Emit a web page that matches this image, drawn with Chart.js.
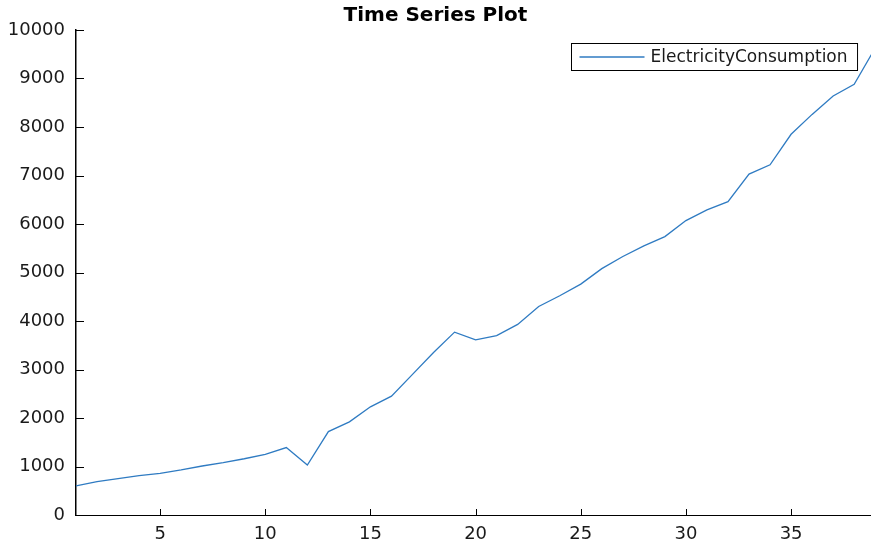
<!DOCTYPE html>
<html>
<head>
<meta charset="utf-8">
<title>Time Series Plot</title>
<script src="https://cdn.jsdelivr.net/npm/chart.js@4.4.1/dist/chart.umd.min.js"></script>
<style>
    html, body { margin: 0; padding: 0; background: #fff; }
    #plot { display: block; }
</style>
</head>
<body>
<canvas id="plot" width="871" height="548"></canvas>
<script>
    // values
    const periods = [1, 2, 3, 4, 5, 6, 7, 8, 9, 10, 11, 12, 13, 14, 15, 16, 17, 18, 19, 20,
        21, 22, 23, 24, 25, 26, 27, 28, 29, 30, 31, 32, 33, 34, 35, 36, 37, 38, 39];
    const consumption = [600, 690, 750, 810, 860, 930, 1010, 1080, 1160, 1250, 1390, 1030, 1720,
        1920, 2230, 2450, 2900, 3350, 3770, 3610, 3700, 3930, 4300, 4520, 4760, 5080, 5330,
        5550, 5740, 6070, 6290, 6460, 7030, 7220, 7850, 8260, 8640, 8880, 9630];
    const xTicks = [5, 10, 15, 20, 25, 30, 35];
    const yTicks = [0, 1000, 2000, 3000, 4000, 5000, 6000, 7000, 8000, 9000, 10000];
    const seriesName = 'ElectricityConsumption';
    const plotTitle = 'Time Series Plot';

    const lineColor = '#2f7bc2';
    Chart.defaults.font.family = "'DejaVu Sans', sans-serif";
    Chart.defaults.color = '#1a1a1a';

    // MATLAB style tick marks pointing into the plot
    const inwardTicks = {
        id: 'inwardTicks',
        afterDraw(chart) {
            const ctx = chart.ctx;
            const area = chart.chartArea;
            ctx.save();
            ctx.strokeStyle = '#000';
            ctx.lineWidth = 1;
            ctx.beginPath();
            chart.scales.y.ticks.forEach(t => {
                const py = Math.round(chart.scales.y.getPixelForValue(t.value)) + 0.5;
                ctx.moveTo(area.left, py);
                ctx.lineTo(area.left + 8, py);
            });
            chart.scales.x.ticks.forEach(t => {
                const px = Math.round(chart.scales.x.getPixelForValue(t.value)) + 0.5;
                ctx.moveTo(px, area.bottom);
                ctx.lineTo(px, area.bottom - 6);
            });
            ctx.stroke();
            ctx.restore();
        }
    };

    // boxed legend in the upper right corner
    const boxLegend = {
        id: 'boxLegend',
        afterDraw(chart) {
            const ctx = chart.ctx;
            const area = chart.chartArea;
            const ds = chart.data.datasets[0];
            ctx.save();
            ctx.font = "17px 'DejaVu Sans', sans-serif";
            const textW = ctx.measureText(ds.label).width;
            const boxW = 8 + 65 + 6 + textW + 10;
            const boxH = 27;
            const bx = Math.round(area.right - 14 - boxW) + 0.5;
            const by = Math.round(area.top + 13) + 0.5;
            ctx.fillStyle = '#fff';
            ctx.fillRect(bx, by, boxW, boxH);
            ctx.strokeStyle = '#000';
            ctx.lineWidth = 1;
            ctx.strokeRect(bx, by, boxW, boxH);
            const cy = by + boxH / 2;
            ctx.strokeStyle = ds.borderColor;
            ctx.lineWidth = ds.borderWidth;
            ctx.beginPath();
            ctx.moveTo(bx + 8, cy);
            ctx.lineTo(bx + 73, cy);
            ctx.stroke();
            ctx.fillStyle = '#1a1a1a';
            ctx.textBaseline = 'middle';
            ctx.textAlign = 'left';
            ctx.fillText(ds.label, bx + 79, cy + 1);
            ctx.restore();
        }
    };

    const points = periods.map((p, i) => ({ x: p, y: consumption[i] }));

    new Chart(document.getElementById('plot'), {
        type: 'line',
        data: {
            datasets: [{
                label: seriesName,
                data: points,
                borderColor: lineColor,
                backgroundColor: lineColor,
                borderWidth: 1.3,
                pointRadius: 0,
                tension: 0
            }]
        },
        options: {
            responsive: false,
            animation: false,
            devicePixelRatio: 1,
            layout: { padding: { left: 0, right: 0, top: 0, bottom: 0 } },
            plugins: {
                legend: { display: false },
                tooltip: { enabled: false },
                title: {
                    display: true,
                    text: plotTitle,
                    color: '#000',
                    font: { size: 20, weight: 'bold' },
                    padding: { top: 4, bottom: 2 }
                }
            },
            scales: {
                x: {
                    type: 'linear',
                    min: 1,
                    max: 38.8,
                    afterBuildTicks: s => { s.ticks = xTicks.map(v => ({ value: v })); },
                    afterFit: s => { s.height = 33; },
                    grid: { display: false, drawTicks: false },
                    border: { display: true, color: '#000', width: 1 },
                    ticks: { font: { size: 18 }, padding: 9, maxRotation: 0, callback: v => String(v) }
                },
                y: {
                    min: 0,
                    max: 10000,
                    afterBuildTicks: s => { s.ticks = yTicks.map(v => ({ value: v })); },
                    afterFit: s => { s.width = 76; },
                    grid: { display: false, drawTicks: false },
                    border: { display: true, color: '#000', width: 1.5 },
                    ticks: { font: { size: 18 }, padding: 11, callback: v => String(v) }
                }
            }
        },
        plugins: [inwardTicks, boxLegend]
    });
</script>
</body>
</html>
